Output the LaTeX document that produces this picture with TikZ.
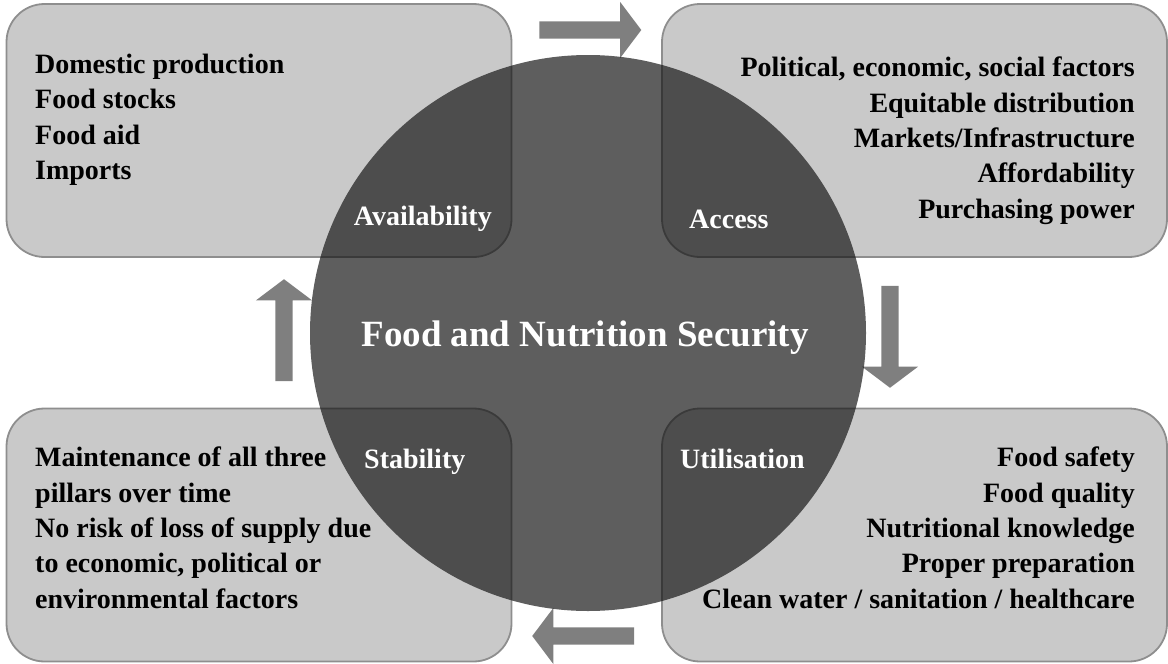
\documentclass[tikz,border=0pt]{standalone}
\usepackage{fontspec}
\setmainfont{Liberation Serif}
\usetikzlibrary{shapes.arrows,positioning}
\definecolor{pillarfill}{HTML}{C9C9C9}
\definecolor{pillarline}{HTML}{8E8E8E}
\definecolor{flowgray}{HTML}{7F7F7F}
\definecolor{coregray}{HTML}{151515}
\tikzset{%
pillar/.style={draw=pillarline, line width=1.8pt, fill=pillarfill, rounded corners=38pt, minimum width=505pt, minimum height=253pt, inner sep=0pt, outer sep=0pt},
flow/.style={single arrow, fill=flowgray, draw=none, minimum height=102pt, single arrow head extend=19.5pt, single arrow head indent=0pt, single arrow tip angle=106, inner xsep=0pt, inner ysep=8.5pt},
core/.style={circle, fill=coregray, fill opacity=0.685, minimum size=556pt, inner sep=0pt},
items/.style={font=\fontsize{28}{35.3}\selectfont\bfseries, inner sep=0pt},
tag/.style={font=\fontsize{28}{34}\selectfont\bfseries, text=white, inner sep=0pt}
}

\begin{document}
\begin{tikzpicture}[x=1pt, y=-1pt]
	\useasboundingbox (0,0) rectangle (1168,664);
	% the four pillars
	\node[pillar] (avail) at (259,130.5) {};
	\node[pillar] (access) [right=150.5pt of avail] {};
	\node[pillar] (stab) [below=151.5pt of avail] {};
	\node[pillar] (util) [below=151.5pt of access] {};

	% cycle arrows between the pillars
	\node[flow] (toaccess) at (587,30) {};
	\node[flow, rotate=-90] (toutil) at (890,333.5) {};
	\node[flow, rotate=180] (tostab) at (586.5,636) {};
	\node[flow, rotate=90] (toavail) at (284,333.5) {};

	% centre disc
	\node[core] (fns) at (588,333) {};
	\node[tag, font=\fontsize{37}{40}\selectfont\bfseries, anchor=base] (fnslabel) at (585,346) {Food and Nutrition Security};

	\node[tag, anchor=base east] (availtag) at (492,225) {Availability};
	\node[tag, anchor=base west] (accesstag) at (689,228) {Access};
	\node[tag, anchor=base west] (stabtag) at (364,468) {Stability};
	\node[tag, anchor=base west] (utiltag) at (680,468) {Utilisation};

	% item lists (base = last line)
	\node[items, align=left, anchor=base west] (availitems) at (35,179.5)
		{Domestic production\\Food stocks\\Food aid\\Imports};
	\node[items, align=right, anchor=base east] (accessitems) at (1135,218)
		{Political, economic, social factors\\Equitable distribution\\Markets/Infrastructure\\Affordability\\Purchasing power};
	\node[items, align=left, anchor=base west] (stabitems) at (35,608)
		{Maintenance of all three\\pillars over time\\No risk of loss of supply due\\to economic, political or\\environmental factors};
	\node[items, align=right, anchor=base east] (utilitems) at (1135,608)
		{Food safety\\Food quality\\Nutritional knowledge\\Proper preparation\\Clean water / sanitation / healthcare};
\end{tikzpicture}
\end{document}
